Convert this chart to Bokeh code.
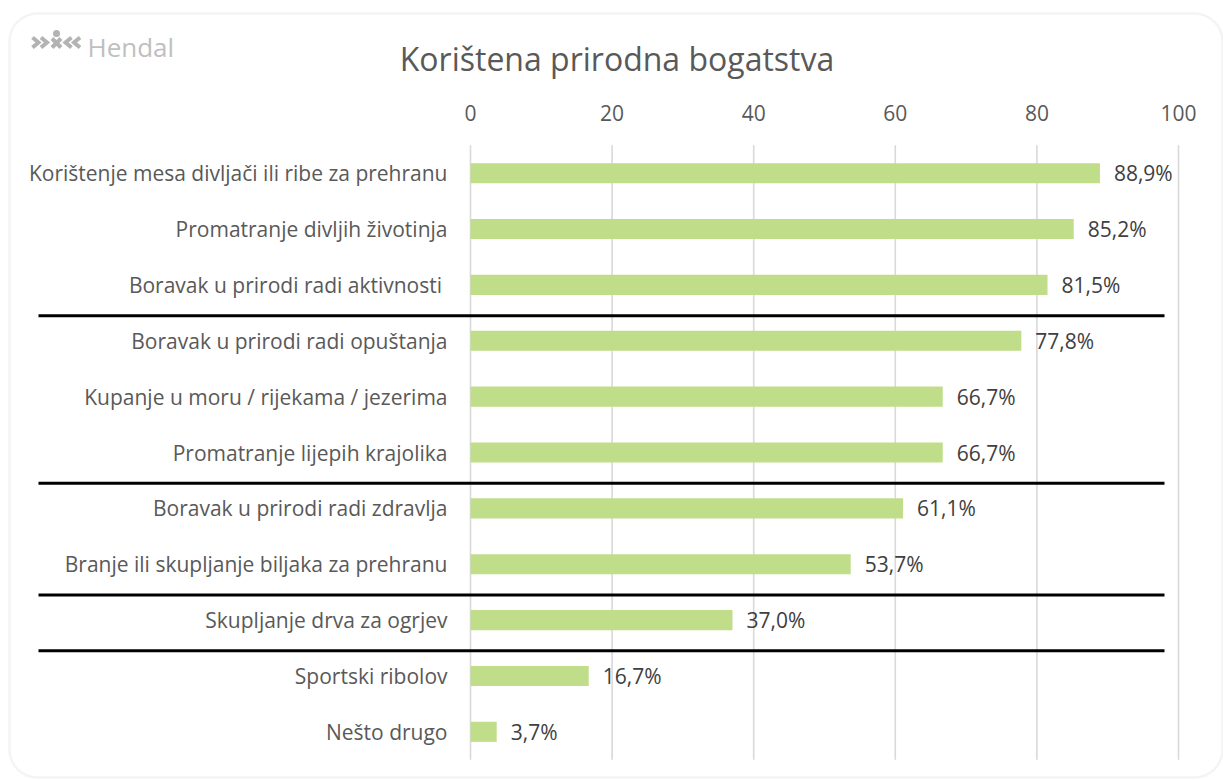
from bokeh.plotting import figure
from bokeh.models import Range1d, BoxAnnotation, ColumnDataSource
from bokeh.core.properties import value
from bokeh.embed import file_html
from bokeh.resources import INLINE

# ---------------- data ----------------
categories = [
    "Korištenje mesa divljači ili ribe za prehranu",
    "Promatranje divljih životinja",
    "Boravak u prirodi radi aktivnosti ",
    "Boravak u prirodi radi opuštanja",
    "Kupanje u moru / rijekama / jezerima",
    "Promatranje lijepih krajolika",
    "Boravak u prirodi radi zdravlja",
    "Branje ili skupljanje biljaka za prehranu",
    "Skupljanje drva za ogrjev",
    "Sportski ribolov",
    "Nešto drugo",
]
values = [88.9, 85.2, 81.5, 77.8, 66.7, 66.7, 61.1, 53.7, 37.0, 16.7, 3.7]
group_sizes = [3, 3, 2, 1, 2]
ticks = [0, 20, 40, 60, 80, 100]
tick_labels = ["0", "20", "40", "60", "80", "100"]
title_text = "Korištena prirodna bogatstva"
brand_text = "Hendal"

# ---------------- layout ----------------
W, H = 1223, 780
PAGE = 0
X0_PAGE = 470.0          # page x of value 0
XSCALE = 7.08            # px per unit
ROW0_PAGE = 172.7        # page y of first row
ROWSTEP = 55.86          # px per row

x_start = -(X0_PAGE - PAGE) / XSCALE
x_end = x_start + W / XSCALE
y_top = -(ROW0_PAGE - PAGE) / ROWSTEP
y_bottom = y_top + H / ROWSTEP


def px(page_x):
    return (page_x - X0_PAGE) / XSCALE


def py(page_y):
    return (page_y - ROW0_PAGE) / ROWSTEP


p = figure(width=W, height=H, output_backend="svg", toolbar_location=None,
           x_range=Range1d(x_start, x_end), y_range=Range1d(y_bottom, y_top),
           min_border=0, background_fill_color="white", border_fill_color="white")
p.axis.visible = False
p.grid.visible = False
p.outline_line_color = None

FONT = "Open Sans"
TXT = "#595959"

# outer rounded frame
frame = BoxAnnotation(left=px(9), right=px(1222), top=py(13), bottom=py(777),
                      fill_alpha=0, line_color="#D9D9D9", line_width=2.5,
                      border_radius=28, level="underlay")
p.add_layout(frame)

rows = list(range(len(categories)))

# gridlines
p.segment(x0=ticks, x1=ticks, y0=[-0.5] * len(ticks), y1=[len(categories) - 0.5] * len(ticks),
          line_color="#D9D9D9", line_width=1.6)

# bars
src = ColumnDataSource(dict(
    y=rows, v=values, cat=categories,
    lab=[f"{v:.1f}".replace(".", ",") + "%" for v in values],
))
p.hbar(y="y", right="v", left=0, height=0.36, source=src,
       fill_color="#C0DD8A", line_color=None)

# value labels
p.text(x="v", y="y", text="lab", source=src, x_offset=14,
       text_align="left", text_baseline="middle",
       text_font=value(FONT), text_font_size="21px", text_color="#404040")

# category labels
p.text(x=0, y="y", text="cat", source=src, x_offset=-23,
       text_align="right", text_baseline="middle",
       text_font=value(FONT), text_font_size="21px", text_color=TXT)

# tick labels (top axis)
p.text(x=ticks, y=[py(112)] * len(ticks), text=tick_labels,
       text_align="center", text_baseline="middle",
       text_font=value(FONT), text_font_size="21px", text_color=TXT)

# group separators
bounds = []
acc = 0
for g in group_sizes[:-1]:
    acc += g
    bounds.append(acc - 0.5 + 0.05)
p.segment(x0=[px(38)] * len(bounds), x1=[px(1164)] * len(bounds), y0=bounds, y1=bounds,
          line_color="black", line_width=3)

# title
p.text(x=[px(616.5)], y=[py(58)], text=[title_text],
       text_align="center", text_baseline="middle",
       text_font=value(FONT), text_font_size="32px", text_color=TXT)

# brand logo
LOGO = "#B3B3B3"
p.text(x=[px(87)], y=[py(46)], text=[brand_text], text_align="left",
       text_baseline="middle", text_font=value("Open Sans"),
       text_font_size="26px", text_color="#BFBFBF")
chev_right = [32, 40.5]
chev_left = [71, 79.5]
xs, ys = [], []
for c in chev_right:
    xs.append([px(c), px(c + 6), px(c)])
    ys.append([py(37), py(42), py(47)])
for c in chev_left:
    xs.append([px(c), px(c - 6), px(c)])
    ys.append([py(37), py(42), py(47)])
xs += [[px(51.5), px(60.5)], [px(60.5), px(51.5)]]
ys += [[py(38), py(47)], [py(38), py(47)]]
p.multi_line(xs=xs, ys=ys, line_color=LOGO, line_width=4, line_cap="butt", line_join="miter")
p.scatter(x=[px(56)], y=[py(33)], marker="circle", size=7, fill_color=LOGO, line_color=None)

open("out.html", "w").write(file_html(p, INLINE))
